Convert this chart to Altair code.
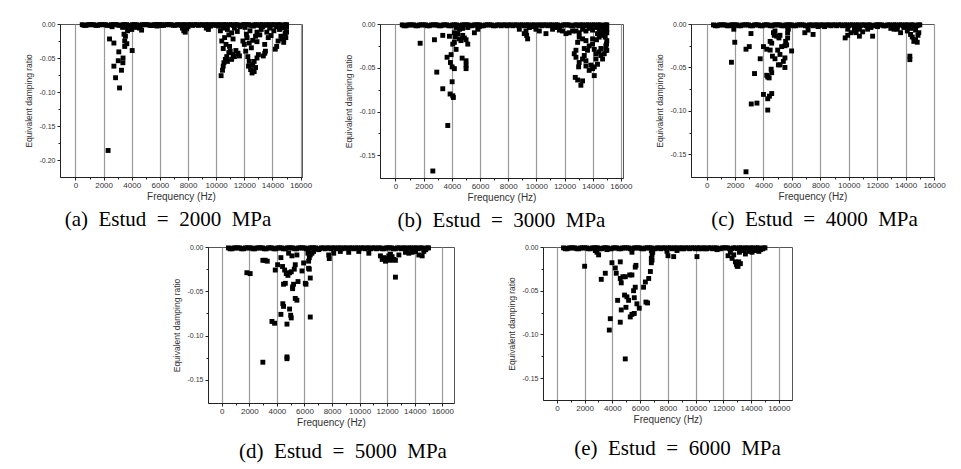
import altair as alt
import pandas as pd

# near-zero modes (band along the top of every panel)
band_f = [480, 750, 1020, 1300, 1580, 1850, 2130, 2400, 2690, 2950, 3230, 3500, 3780,
          4060, 4330, 4610, 4880, 5160, 5430, 5710, 5990, 6260, 6540, 6810, 7090, 7360,
          7640, 7920, 8190, 8470, 8740, 9020, 9290, 9570, 9850, 10120, 10400, 10670,
          10950, 11230, 11500, 11780, 12050, 12330, 12600, 12880, 13160, 13430, 13710,
          13980, 14260, 14530, 14810, 15000]
band_r = [-0.001, -0.002, -0.001, -0.001, -0.002, -0.001, -0.001, -0.002, -0.001, -0.001,
          -0.002, -0.001, -0.002, -0.001, -0.001, -0.002, -0.001, -0.001, -0.002, -0.001,
          -0.001, -0.002, -0.001, -0.001, -0.002, -0.001, -0.001, -0.002, -0.001, -0.001,
          -0.002, -0.001, -0.001, -0.002, -0.001, -0.001, -0.002, -0.001, -0.001, -0.002,
          -0.001, -0.002, -0.001, -0.001, -0.002, -0.001, -0.001, -0.002, -0.001, -0.001,
          -0.002, -0.001, -0.002, -0.001]
band2_f = [610, 880, 1160, 1440, 1710, 1990, 2260, 2540, 2820, 3090, 3370, 3640, 3920,
           4190, 4470, 4740, 5020, 5290, 5570, 5850, 6120, 6400, 6670, 6950, 7220, 7500,
           7780, 8050, 8330, 8600, 8880, 9150, 9430, 9710, 9980, 10260, 10530, 10810,
           11090, 11360, 11640, 11910, 12190, 12460, 12740, 13020, 13290, 13570, 13840,
           14120, 14390, 14670, 14900]
band2_r = [-0.002, -0.001, -0.001, -0.002, -0.001, -0.001, -0.002, -0.001, -0.001, -0.002,
           -0.001, -0.001, -0.002, -0.001, -0.002, -0.001, -0.001, -0.002, -0.001, -0.001,
           -0.002, -0.001, -0.001, -0.002, -0.001, -0.002, -0.001, -0.001, -0.002, -0.001,
           -0.001, -0.002, -0.001, -0.001, -0.002, -0.001, -0.001, -0.002, -0.001, -0.001,
           -0.002, -0.001, -0.001, -0.002, -0.001, -0.002, -0.001, -0.001, -0.002, -0.001,
           -0.001, -0.002, -0.001]

# (a) Estud = 2000 MPa : (frequency Hz, damping ratio)
pts_a = [(2320, -0.186), (3130, -0.094), (2850, -0.079), (2730, -0.062), (3040, -0.054),
         (3270, -0.068), (3370, -0.057), (3380, -0.050), (3080, -0.041), (2730, -0.028),
         (2420, -0.022), (3500, -0.033), (3500, -0.025), (3450, -0.015), (4030, -0.039),
         (3650, -0.029), (3550, -0.018), (2600, -0.004), (3350, -0.005), (3600, -0.004),
         (3700, -0.010), (4000, -0.008), (4300, -0.005), (4550, -0.006), (4700, -0.009),
         (4200, -0.002), (3900, -0.003), (5500, -0.002), (5800, -0.003), (5900, -0.002),
         (6100, -0.001), (7700, -0.010), (7800, -0.012), (7900, -0.007), (8000, -0.004),
         (7600, -0.006), (9300, -0.006), (9450, -0.008), (9600, -0.003),
         (10350, -0.076), (10450, -0.068), (10500, -0.062), (10550, -0.057), (10650, -0.052),
         (10800, -0.055), (10750, -0.048), (10900, -0.042), (11000, -0.040), (10950, -0.033),
         (10700, -0.030), (10500, -0.036), (10400, -0.025), (10600, -0.020), (10900, -0.016),
         (11100, -0.013), (11200, -0.022), (11400, -0.039), (11550, -0.043), (11650, -0.047),
         (11300, -0.048), (11200, -0.045), (11100, -0.052), (10300, -0.010), (10500, -0.006),
         (10800, -0.008), (11300, -0.006), (11500, -0.011), (11700, -0.004), (10200, -0.003),
         (11900, -0.025), (12000, -0.030), (12100, -0.040), (12250, -0.048), (12350, -0.055),
         (12300, -0.062), (12450, -0.067), (12550, -0.072), (12700, -0.070), (12800, -0.064),
         (12600, -0.060), (12700, -0.055), (12900, -0.050), (13000, -0.045), (12500, -0.035),
         (12350, -0.028), (12600, -0.024), (12800, -0.018), (12150, -0.015), (12400, -0.010),
         (12900, -0.012), (13100, -0.016), (13200, -0.008), (12050, -0.005), (12650, -0.003),
         (13300, -0.004), (12200, -0.020), (12900, -0.026), (13350, -0.047), (13450, -0.043),
         (13500, -0.040), (13450, -0.030), (13700, -0.020), (13900, -0.017), (14200, -0.037),
         (14300, -0.033), (14400, -0.025), (14600, -0.018), (14700, -0.022), (14800, -0.027),
         (14900, -0.014), (15000, -0.012), (14850, -0.006), (14500, -0.008), (14100, -0.010),
         (13800, -0.006), (14300, -0.004), (14950, -0.020), (13600, -0.012), (14700, -0.003),
         (15000, -0.005)]

# (b) Estud = 3000 MPa
pts_b = [(1750, -0.022), (2765, -0.018), (2930, -0.055), (3355, -0.074), (3710, -0.116),
         (2650, -0.168), (3355, -0.013), (3660, -0.038), (3830, -0.014), (3950, -0.035),
         (3875, -0.080), (4065, -0.082), (4110, -0.084), (4020, -0.066), (3900, -0.044),
         (4020, -0.049), (4180, -0.051), (4065, -0.023), (4180, -0.021), (4300, -0.029),
         (4250, -0.015), (4180, -0.010), (4420, -0.011), (4540, -0.017), (4650, -0.019),
         (4770, -0.013), (4890, -0.016), (5010, -0.018), (5010, -0.042), (4730, -0.039),
         (5010, -0.047), (5010, -0.051), (5130, -0.023), (4540, -0.006), (4300, -0.004),
         (4770, -0.005), (5130, -0.004), (5600, -0.010), (5840, -0.006), (5950, -0.003),
         (8790, -0.006), (9260, -0.008), (9310, -0.013), (9380, -0.017), (9140, -0.011),
         (9500, -0.004), (9740, -0.003), (9970, -0.006), (10210, -0.008), (10680, -0.011),
         (11150, -0.006), (11390, -0.004), (11630, -0.007), (11860, -0.008), (12100, -0.011),
         (12330, -0.010), (12570, -0.008), (12690, -0.034), (12810, -0.030), (12760, -0.061),
         (12930, -0.064), (13160, -0.070), (13280, -0.065), (13040, -0.044), (13280, -0.040),
         (13520, -0.042), (13400, -0.036), (13630, -0.030), (13750, -0.025), (13520, -0.019),
         (13280, -0.017), (13040, -0.015), (12930, -0.021), (13990, -0.023), (14110, -0.029),
         (14230, -0.034), (13870, -0.047), (13990, -0.051), (14110, -0.049), (14340, -0.046),
         (14230, -0.040), (14460, -0.032), (14580, -0.036), (14700, -0.040), (14580, -0.028),
         (14820, -0.034), (14930, -0.030), (14980, -0.023), (15000, -0.019), (14890, -0.015),
         (14700, -0.013), (14460, -0.015), (14340, -0.011), (14580, -0.010), (14820, -0.008),
         (15000, -0.006), (15000, -0.010), (14110, -0.059), (13750, -0.053), (13520, -0.048),
         (13000, -0.049), (12810, -0.038), (13400, -0.028), (13990, -0.017), (14270, -0.018),
         (14930, -0.025), (15000, -0.030), (12810, -0.008), (13040, -0.010), (13280, -0.006),
         (13520, -0.008), (13750, -0.005), (13990, -0.007), (14230, -0.004), (14460, -0.006),
         (14700, -0.004), (14930, -0.003)]

# (c) Estud = 4000 MPa
pts_c = [(1745, -0.044), (1910, -0.006), (1980, -0.021), (2770, -0.029), (3000, -0.026),
         (2770, -0.170), (3140, -0.092), (3120, -0.011), (3370, -0.057), (3540, -0.091),
         (3770, -0.040), (4000, -0.026), (4000, -0.081), (4230, -0.059), (4300, -0.061),
         (4230, -0.029), (4300, -0.086), (4400, -0.062), (4470, -0.030), (4420, -0.083),
         (4580, -0.080), (4300, -0.099), (4580, -0.056), (4540, -0.052), (4630, -0.037),
         (4470, -0.020), (4580, -0.022), (4700, -0.010), (4810, -0.008), (4760, -0.013),
         (4930, -0.014), (4810, -0.040), (5000, -0.030), (5160, -0.035), (5160, -0.047),
         (5050, -0.047), (5280, -0.026), (5160, -0.013), (5090, -0.016), (5400, -0.043),
         (5510, -0.039), (5510, -0.050), (5630, -0.024), (5510, -0.025), (5560, -0.020),
         (5700, -0.010), (5750, -0.006), (5700, -0.004), (5980, -0.031), (5700, -0.016),
         (6910, -0.010), (7140, -0.007), (7490, -0.012), (7840, -0.003), (8300, -0.003),
         (9930, -0.006), (10400, -0.008), (10520, -0.010), (10630, -0.005), (10750, -0.006),
         (9750, -0.016), (9930, -0.013), (10160, -0.010), (10400, -0.007), (10750, -0.014),
         (10980, -0.009), (11330, -0.006), (11560, -0.004), (11680, -0.014), (12030, -0.003),
         (12500, -0.002), (12960, -0.005), (13190, -0.006), (13420, -0.006), (13650, -0.010),
         (13880, -0.004), (14120, -0.008), (14350, -0.012), (14470, -0.015), (14580, -0.020),
         (14700, -0.018), (14820, -0.021), (14870, -0.013), (14930, -0.010), (14700, -0.007),
         (14350, -0.005), (14120, -0.003), (14300, -0.037), (14300, -0.041)]

# (d) Estud = 5000 MPa
pts_d = [(1820, -0.029), (2060, -0.030), (2980, -0.015), (3150, -0.015), (3300, -0.016),
         (2980, -0.130), (3640, -0.084), (3830, -0.086), (3880, -0.026), (4050, -0.020),
         (4290, -0.012), (4290, -0.076), (4430, -0.064), (4480, -0.067), (4480, -0.042),
         (4610, -0.041), (4410, -0.022), (4560, -0.026), (4680, -0.030), (4800, -0.032),
         (4730, -0.087), (4730, -0.124), (4730, -0.126), (4920, -0.070), (5000, -0.077),
         (5040, -0.080), (4920, -0.029), (5040, -0.028), (5140, -0.045), (5140, -0.047),
         (5210, -0.042), (5260, -0.025), (5330, -0.020), (5330, -0.058), (5450, -0.060),
         (5530, -0.039), (4850, -0.007), (5090, -0.010), (5450, -0.009), (5820, -0.027),
         (5940, -0.018), (6060, -0.041), (6110, -0.042), (6300, -0.024), (6350, -0.025),
         (6420, -0.035), (6420, -0.079), (6300, -0.016), (6350, -0.012), (6420, -0.009),
         (6250, -0.007), (6540, -0.007), (6660, -0.005), (7030, -0.003), (7760, -0.009),
         (7800, -0.013), (8120, -0.007), (8600, -0.005), (9210, -0.006), (9940, -0.005),
         (10670, -0.007), (11510, -0.010), (11640, -0.014), (11760, -0.012), (11880, -0.016),
         (12000, -0.013), (12120, -0.010), (12240, -0.015), (12240, -0.008), (12360, -0.011),
         (12480, -0.014), (12600, -0.034), (12600, -0.015), (12850, -0.009), (13330, -0.006),
         (13570, -0.007), (13810, -0.006), (14060, -0.005), (14300, -0.009), (14540, -0.010),
         (14660, -0.005), (14790, -0.003)]

# (e) Estud = 6000 MPa
pts_e = [(2000, -0.022), (2770, -0.004), (2890, -0.006), (3010, -0.009), (3200, -0.037),
         (3490, -0.030), (3610, -0.003), (3850, -0.082), (3780, -0.095), (3970, -0.018),
         (4210, -0.024), (4280, -0.030), (4380, -0.061), (4570, -0.017), (4570, -0.036),
         (4640, -0.041), (4640, -0.072), (4570, -0.086), (4760, -0.034), (4930, -0.034),
         (4880, -0.055), (5050, -0.057), (4930, -0.128), (4980, -0.069), (5170, -0.061),
         (5250, -0.032), (5410, -0.032), (5290, -0.080), (5410, -0.077), (5410, -0.006),
         (5580, -0.076), (5530, -0.050), (5650, -0.046), (5580, -0.058), (5650, -0.023),
         (5700, -0.021), (5770, -0.065), (5940, -0.070), (6250, -0.046), (6380, -0.040),
         (6420, -0.063), (6540, -0.064), (6620, -0.036), (6740, -0.028), (6810, -0.018),
         (6860, -0.015), (6810, -0.013), (6910, -0.006), (6860, -0.009), (6810, -0.004),
         (7940, -0.005), (8010, -0.010), (8420, -0.011), (8660, -0.004), (9020, -0.002),
         (10100, -0.011), (10220, -0.002), (10710, -0.002), (11550, -0.003), (12340, -0.010),
         (12510, -0.006), (12630, -0.013), (12750, -0.009), (12870, -0.017), (12950, -0.020),
         (13000, -0.022), (13110, -0.017), (13060, -0.022), (13230, -0.019), (13160, -0.006),
         (13470, -0.004), (13590, -0.008), (13830, -0.005), (14070, -0.006), (14320, -0.004),
         (14440, -0.002), (14560, -0.005), (14680, -0.003), (14800, -0.002)]

NB = "\u00a0\u00a0"
captions = [NB.join(["(a)", "Estud", "=", "2000", "MPa"]),
            NB.join(["(b)", "Estud", "=", "3000", "MPa"]),
            NB.join(["(c)", "Estud", "=", "4000", "MPa"]),
            NB.join(["(d)", "Estud", "=", "5000", "MPa"]),
            NB.join(["(e)", "Estud", "=", "6000", "MPa"])]
# axis tick positions: major every 2000 Hz / 0.05, minor halfway
x_ticks = [0, 1000, 2000, 3000, 4000, 5000, 6000, 7000, 8000, 9000, 10000, 11000,
           12000, 13000, 14000, 15000, 16000]
y_ticks_a = [0.0, -0.025, -0.05, -0.075, -0.10, -0.125, -0.15, -0.175, -0.20]
y_ticks = [0.0, -0.025, -0.05, -0.075, -0.10, -0.125, -0.15]

X_MAJOR = "datum.value % 2000 == 0"
Y_MAJOR = "abs(round(datum.value * 1000)) % 50 == 0"
X_LABEL = X_MAJOR + " ? format(datum.value, 'd') : ''"
Y_LABEL = (Y_MAJOR + " ? ((datum.value < 0 ? '-' : '') + format(abs(datum.value), '.2f')) : ''")


def panel(pts, xdom, ydom, yvals, w, h, caption, dx, off):
    df = pd.DataFrame({"f": band_f + band2_f + [p[0] for p in pts],
                       "r": band_r + band2_r + [p[1] for p in pts]})
    return alt.Chart(df).mark_square(size=24, color="black", opacity=1).encode(
        x=alt.X("f:Q", scale=alt.Scale(domain=xdom, nice=False, zero=False),
                axis=alt.Axis(values=x_ticks, labelExpr=X_LABEL, title="Frequency (Hz)",
                              grid=True, gridColor="#9a9a9a", gridWidth=1.2,
                              gridOpacity={"condition": {"test": X_MAJOR, "value": 1}, "value": 0},
                              tickSize={"condition": {"test": X_MAJOR, "value": 3}, "value": 2},
                              labelPadding=1, titlePadding=2,
                              labelFontSize=8, titleFontSize=10, labelFlush=False)),
        y=alt.Y("r:Q", scale=alt.Scale(domain=ydom, nice=False, zero=False),
                axis=alt.Axis(values=yvals, labelExpr=Y_LABEL, title="Equivalent damping ratio",
                              grid=False,
                              tickSize={"condition": {"test": Y_MAJOR, "value": 3}, "value": 2},
                              labelPadding=2, titlePadding=6,
                              labelFontSize=7, titleFontSize=8.5, labelFlush=False)),
    ).properties(
        width=w, height=h,
        title=alt.TitleParams(caption, orient="bottom", anchor="middle", frame="group",
                              font="Liberation Serif", fontSize=21, fontWeight="normal",
                              color="black", offset=off, dx=dx),
    )


def spacer(w):
    return alt.Chart(pd.DataFrame({"v": [0]})).mark_point(opacity=0).encode(
        x=alt.X("v:Q", axis=None), y=alt.Y("v:Q", axis=None)
    ).properties(width=w, height=1, view=alt.ViewBackground(strokeOpacity=0))


pa = panel(pts_a, [-1100, 16100], [-0.225, 0.0], y_ticks_a, 242, 153, captions[0], -13, 8)
pb = panel(pts_b, [-1100, 16150], [-0.176, 0.0], y_ticks, 243, 154, captions[1], 0, 8)
pc = panel(pts_c, [-1100, 16000], [-0.176, 0.0], y_ticks, 243, 153, captions[2], 2, 8)
pd_ = panel(pts_d, [-1000, 16850], [-0.176, 0.0], y_ticks, 246, 156, captions[3], 12, 14)
pe = panel(pts_e, [-1000, 16950], [-0.175, 0.0], y_ticks, 249, 153, captions[4], 10, 14)

top = alt.hconcat(pa, spacer(18), pb, spacer(8), pc, spacing=30, bounds="flush")
bottom = alt.hconcat(spacer(118), pd_, spacer(29), pe, spacing=30, bounds="flush")

chart = alt.vconcat(top, bottom, spacing=10).properties(
    padding={"left": 15, "top": 11, "right": 5, "bottom": 5}
).configure_view(
    stroke="#555555", strokeWidth=1
).configure_axis(
    labelFont="Liberation Sans", titleFont="Liberation Sans",
    labelColor="#333333", titleColor="#333333", titleFontWeight="normal",
    domainColor="#222222", tickColor="#222222"
)

chart.save("out.html", embed_options={"renderer": "svg", "actions": False})
